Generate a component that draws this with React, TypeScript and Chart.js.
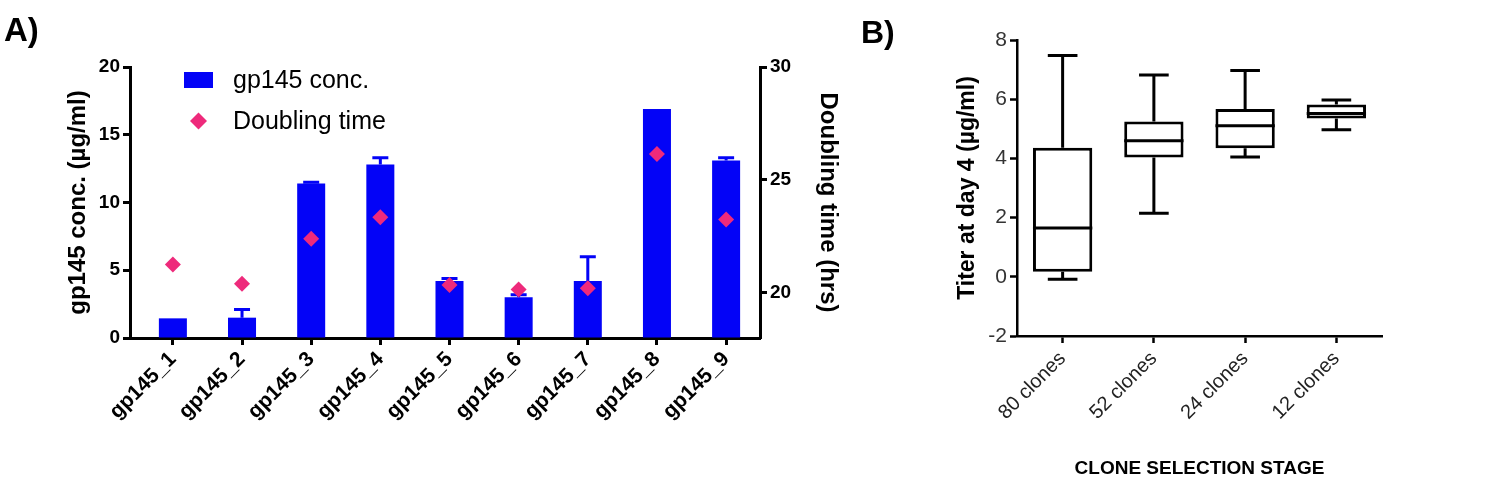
import React, { useEffect, useRef } from 'react';
import { Chart, registerables } from 'chart.js';

Chart.register(...registerables);

const FONT = "'Liberation Sans', Arial, Helvetica, sans-serif";
const BLUE = '#0303F7';
const PINK = '#EE2A7B';

// ---------- Panel A data ----------
const cloneLabels = ['gp145_1', 'gp145_2', 'gp145_3', 'gp145_4', 'gp145_5', 'gp145_6', 'gp145_7', 'gp145_8', 'gp145_9'];
const concValues = [1.45, 1.5, 11.4, 12.8, 4.2, 3.0, 4.2, 16.9, 13.1];
const concErrors = [0, 0.6, 0.1, 0.5, 0.2, 0.2, 1.8, 0, 0.2];
const doublingTimes = [21.25, 20.4, 22.4, 23.35, 20.35, 20.15, 20.2, 26.15, 23.25];
const concTicks = [0, 5, 10, 15, 20];
const doublingTicks = [20, 25, 30];

// ---------- Panel B data ----------
const stageLabels = ['80 clones', '52 clones', '24 clones', '12 clones'];
const whiskerMin = [-0.08, 2.15, 4.05, 4.97];
const quartile1 = [0.17, 4.03, 4.34, 5.35];
const medians = [1.65, 4.6, 5.1, 5.52];
const quartile3 = [4.36, 5.25, 5.67, 5.82];
const whiskerMax = [7.48, 6.82, 6.97, 5.97];
const titerTicks = [-2, 0, 2, 4, 6, 8];

const errorBarPlugin = {
  id: 'errorBars',
  afterDatasetDraw(chart: any, args: any) {
    if (args.meta.type !== 'bar') return;
    const { ctx } = chart;
    const yScale = chart.scales.y;
    ctx.save();
    ctx.strokeStyle = BLUE;
    ctx.lineWidth = 3;
    args.meta.data.forEach((el: any, i: number) => {
      const err = concErrors[i];
      if (!err) return;
      const top = yScale.getPixelForValue(concValues[i] + err);
      ctx.beginPath();
      ctx.moveTo(el.x, el.y);
      ctx.lineTo(el.x, top);
      ctx.moveTo(el.x - 8, top);
      ctx.lineTo(el.x + 8, top);
      ctx.stroke();
    });
    ctx.restore();
  },
};

const legendPlugin = {
  id: 'insideLegend',
  afterDraw(chart: any) {
    const { ctx, chartArea } = chart;
    const x0 = chartArea.left + 54;
    const y0 = chartArea.top + 13;
    ctx.save();
    ctx.fillStyle = BLUE;
    ctx.fillRect(x0, y0 - 8, 29, 16);
    ctx.fillStyle = PINK;
    const dx = x0 + 14.5;
    const dy = y0 + 41;
    ctx.beginPath();
    ctx.moveTo(dx - 8.5, dy);
    ctx.lineTo(dx, dy - 8.5);
    ctx.lineTo(dx + 8.5, dy);
    ctx.lineTo(dx, dy + 8.5);
    ctx.closePath();
    ctx.fill();
    ctx.fillStyle = '#000';
    ctx.font = `25px ${FONT}`;
    ctx.textBaseline = 'middle';
    ctx.fillText('gp145 conc.', x0 + 49, y0 + 1);
    ctx.fillText('Doubling time', x0 + 49, dy + 1);
    ctx.restore();
  },
};

const boxPlugin = {
  id: 'boxWhiskers',
  afterDatasetsDraw(chart: any) {
    const { ctx } = chart;
    const yScale = chart.scales.y;
    const meta = chart.getDatasetMeta(0);
    ctx.save();
    ctx.strokeStyle = '#000';
    ctx.lineWidth = 3;
    meta.data.forEach((el: any, i: number) => {
      const half = el.width / 2;
      const cap = el.width / 4;
      const yMed = yScale.getPixelForValue(medians[i]);
      const yQ1 = yScale.getPixelForValue(quartile1[i]);
      const yQ3 = yScale.getPixelForValue(quartile3[i]);
      const yMin = yScale.getPixelForValue(whiskerMin[i]);
      const yMax = yScale.getPixelForValue(whiskerMax[i]);
      ctx.beginPath();
      ctx.moveTo(el.x - half, yMed);
      ctx.lineTo(el.x + half, yMed);
      ctx.moveTo(el.x, yQ3);
      ctx.lineTo(el.x, yMax);
      ctx.moveTo(el.x - cap, yMax);
      ctx.lineTo(el.x + cap, yMax);
      ctx.moveTo(el.x, yQ1);
      ctx.lineTo(el.x, yMin);
      ctx.moveTo(el.x - cap, yMin);
      ctx.lineTo(el.x + cap, yMin);
      ctx.stroke();
    });
    ctx.restore();
  },
};

const axisGrid = { drawOnChartArea: false, drawTicks: true, tickLength: 7, tickWidth: 3, tickColor: '#000', color: '#000', offset: false };
const axisBorder = { display: true, width: 3, color: '#000' };

export default function App() {
  const refA = useRef<HTMLCanvasElement>(null);
  const refB = useRef<HTMLCanvasElement>(null);

  useEffect(() => {
    const chartA = new Chart(refA.current as HTMLCanvasElement, {
      type: 'bar',
      data: {
        datasets: [
          {
            type: 'line',
            label: 'Doubling time',
            data: doublingTimes.map((v, i) => ({ x: i + 1, y: v })),
            yAxisID: 'y1',
            showLine: false,
            pointStyle: 'rectRot',
            pointRadius: 8,
            pointHoverRadius: 8,
            backgroundColor: PINK,
            borderColor: PINK,
            borderWidth: 0,
            order: 1,
          } as any,
          {
            type: 'bar',
            label: 'gp145 conc.',
            data: concValues.map((v, i) => ({ x: i + 1, y: v })),
            yAxisID: 'y',
            backgroundColor: BLUE,
            borderWidth: 0,
            barPercentage: 0.405,
            categoryPercentage: 1,
            order: 2,
          } as any,
        ],
      },
      options: {
        responsive: false,
        maintainAspectRatio: false,
        animation: false,
        layout: { padding: { top: 67, left: 0, right: 0, bottom: 0 } },
        plugins: { legend: { display: false }, tooltip: { enabled: false } },
        scales: {
          x: {
            type: 'linear',
            offset: false,
            min: 0.38,
            max: 9.49,
            afterBuildTicks: (s: any) => {
              s.ticks = cloneLabels.map((_, i) => ({ value: i + 1 }));
            },
            afterFit: (s: any) => {
              s.height = 149;
            },
            ticks: {
              callback: (v: any) => cloneLabels[Math.round(v) - 1] ?? '',
              minRotation: 45,
              maxRotation: 45,
              autoSkip: false,
              padding: 2,
              color: '#000',
              font: { family: FONT, size: 21, weight: 'bold' },
            },
            grid: axisGrid,
            border: axisBorder,
          } as any,
          y: {
            position: 'left',
            min: 0,
            max: 20,
            afterBuildTicks: (s: any) => {
              s.ticks = concTicks.map((v) => ({ value: v }));
            },
            afterFit: (s: any) => {
              s.width = 130;
            },
            ticks: { color: '#000', padding: 3, font: { family: FONT, size: 19, weight: 'bold' } },
            title: {
              display: true,
              text: 'gp145 conc. (µg/ml)',
              color: '#000',
              font: { family: FONT, size: 24, weight: 'bold' },
              padding: { top: 64, bottom: 0 },
            },
            grid: axisGrid,
            border: axisBorder,
          } as any,
          y1: {
            position: 'right',
            min: 18,
            max: 30,
            afterBuildTicks: (s: any) => {
              s.ticks = doublingTicks.map((v) => ({ value: v }));
            },
            afterFit: (s: any) => {
              s.width = 100;
            },
            ticks: { color: '#000', padding: 3, font: { family: FONT, size: 19, weight: 'bold' } },
            title: {
              display: true,
              text: 'Doubling time (hrs)',
              color: '#000',
              font: { family: FONT, size: 24, weight: 'bold' },
              padding: { top: 18, bottom: 0 },
            },
            grid: axisGrid,
            border: axisBorder,
          } as any,
        },
      },
      plugins: [errorBarPlugin, legendPlugin],
    });

    const chartB = new Chart(refB.current as HTMLCanvasElement, {
      type: 'bar',
      data: {
        labels: stageLabels,
        datasets: [
          {
            label: 'Titer at day 4',
            data: quartile1.map((v, i) => [v, quartile3[i]]),
            backgroundColor: '#fff',
            borderColor: '#000',
            borderWidth: 3,
            borderSkipped: false,
            barPercentage: 0.65,
            categoryPercentage: 1,
          } as any,
        ],
      },
      options: {
        responsive: false,
        maintainAspectRatio: false,
        animation: false,
        layout: { padding: { top: 40, left: 0, right: 118, bottom: 0 } },
        plugins: { legend: { display: false }, tooltip: { enabled: false } },
        scales: {
          x: {
            type: 'category',
            offset: true,
            afterFit: (s: any) => {
              s.height = 151;
            },
            ticks: {
              minRotation: 45,
              maxRotation: 45,
              autoSkip: false,
              padding: 4,
              color: '#222',
              font: { family: FONT, size: 20 },
            },
            title: {
              display: true,
              text: 'CLONE SELECTION STAGE',
              color: '#000',
              font: { family: FONT, size: 19, weight: 'bold' },
              padding: { top: 0, bottom: 7 },
            },
            grid: { ...axisGrid, tickWidth: 2.5 },
            border: { ...axisBorder, width: 2.5 },
          } as any,
          y: {
            min: -2,
            max: 8,
            afterBuildTicks: (s: any) => {
              s.ticks = titerTicks.map((v) => ({ value: v }));
            },
            afterFit: (s: any) => {
              s.width = 157;
            },
            ticks: { color: '#333', padding: 3, font: { family: FONT, size: 21 } },
            title: {
              display: true,
              text: 'Titer at day 4 (µg/ml)',
              color: '#000',
              font: { family: FONT, size: 23, weight: 'bold' },
              padding: { top: 94, bottom: 0 },
            },
            grid: { ...axisGrid, tickWidth: 2.5 },
            border: { ...axisBorder, width: 2.5 },
          } as any,
        },
      },
      plugins: [boxPlugin],
    });

    return () => {
      chartA.destroy();
      chartB.destroy();
    };
  }, []);

  return (
    <div style={{ position: 'absolute', left: 0, top: 0, width: 1500, height: 487, background: '#fff', overflow: 'hidden' }}>
      <canvas ref={refA} width={860} height={487} style={{ position: 'absolute', left: 0, top: 0, width: 860, height: 487 }} />
      <canvas ref={refB} width={640} height={487} style={{ position: 'absolute', left: 860, top: 0, width: 640, height: 487 }} />
      <div style={{ position: 'absolute', left: 4, top: 13, font: `bold 33px ${FONT}`, lineHeight: '33px', color: '#000' }}>A)</div>
      <div style={{ position: 'absolute', left: 861, top: 16, font: `bold 32px ${FONT}`, lineHeight: '32px', color: '#000' }}>B)</div>
    </div>
  );
}
